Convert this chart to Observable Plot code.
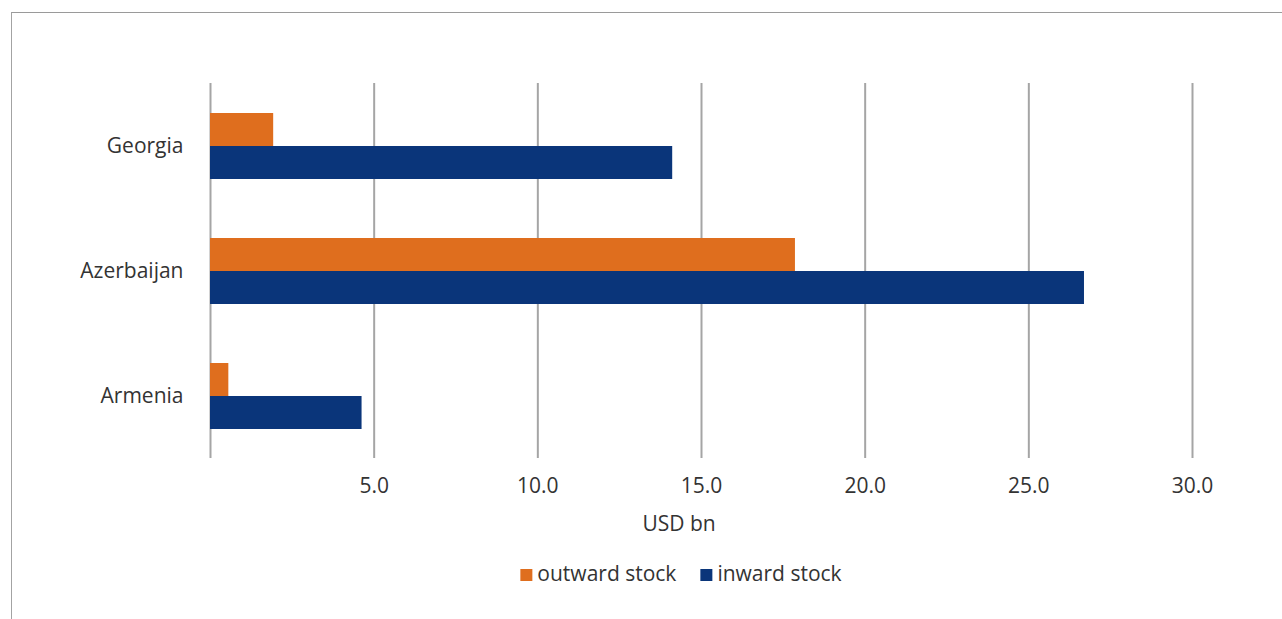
<!DOCTYPE html>
<html>
<head>
<meta charset="utf-8">
<script src="https://cdn.jsdelivr.net/npm/d3@7"></script>
<script src="https://cdn.jsdelivr.net/npm/@observablehq/plot@0.6"></script>
<style>
  html, body { margin: 0; padding: 0; background: #fff; overflow: hidden; }
  #wrap { position: relative; width: 1282px; height: 619px; font-family: "Open Sans", sans-serif; color: #333333; }
  #frame { position: absolute; left: 11px; top: 11.5px; width: 2000px; height: 2000px;
           border-top: 1.5px solid #9a9a9a; border-left: 1.5px solid #a3a3a3; }
  #chart { position: absolute; left: 0; top: 0; }
  #xlabel { position: absolute; top: 513px; left: 679px; transform: translateX(-50%);
            font-size: 21px; line-height: 1; white-space: nowrap; }
  #legend { position: absolute; top: 563px; left: 681px; transform: translateX(-50%);
            font-size: 21px; line-height: 1; white-space: nowrap; display: flex; align-items: baseline; }
  .item { display: inline-flex; align-items: baseline; }
  .item + .item { margin-left: 24px; }
  .sw { display: inline-block; width: 12px; height: 12px; margin-right: 5px; }
</style>
</head>
<body>
<div id="wrap">
  <div id="frame"></div>
  <div id="chart"></div>
  <div id="xlabel"></div>
  <div id="legend"></div>
</div>
<script>
const countries = ["Georgia", "Azerbaijan", "Armenia"];
const outwardStock = [1.93, 17.87, 0.56];
const inwardStock = [14.12, 26.70, 4.63];
const seriesNames = ["outward stock", "inward stock"];
const seriesColors = ["#df6e1e", "#0a357a"];
const xTickValues = [5, 10, 15, 20, 25, 30];
const gridValues = [0, 5, 10, 15, 20, 25, 30];
const xAxisLabel = "USD bn";

const table = [];
countries.forEach((c, i) => {
  table.push({country: c, series: seriesNames[0], value: outwardStock[i]});
  table.push({country: c, series: seriesNames[1], value: inwardStock[i]});
});

const chart = Plot.plot({
  width: 1282,
  height: 545,
  marginLeft: 210,
  marginRight: 90,
  marginTop: 83,
  marginBottom: 87,
  style: {fontFamily: "'Open Sans', sans-serif", fontSize: "21px", color: "#333333", background: "transparent", overflow: "visible"},
  x: {domain: [0, 30], ticks: xTickValues, tickFormat: d3.format(".1f"), tickSize: 0, tickPadding: 20, label: null},
  fy: {domain: countries, padding: 0, label: null, tickSize: 0, tickPadding: 27, axis: "left"},
  y: {domain: seriesNames, paddingInner: 0, paddingOuter: 0.89, axis: null},
  color: {domain: seriesNames, range: seriesColors},
  marks: [
    Plot.gridX(gridValues, {stroke: "#a5a5a5", strokeOpacity: 1, strokeWidth: 2}),
    Plot.barX(table, {x: "value", y: "series", fy: "country", fill: "series"})
  ]
});
document.getElementById("chart").appendChild(chart);

document.getElementById("xlabel").textContent = xAxisLabel;
const legend = document.getElementById("legend");
seriesNames.forEach((s, i) => {
  const item = document.createElement("span");
  item.className = "item";
  const sw = document.createElement("span");
  sw.className = "sw";
  sw.style.background = seriesColors[i];
  const t = document.createElement("span");
  t.textContent = s;
  item.appendChild(sw);
  item.appendChild(t);
  legend.appendChild(item);
});
</script>
</body>
</html>
